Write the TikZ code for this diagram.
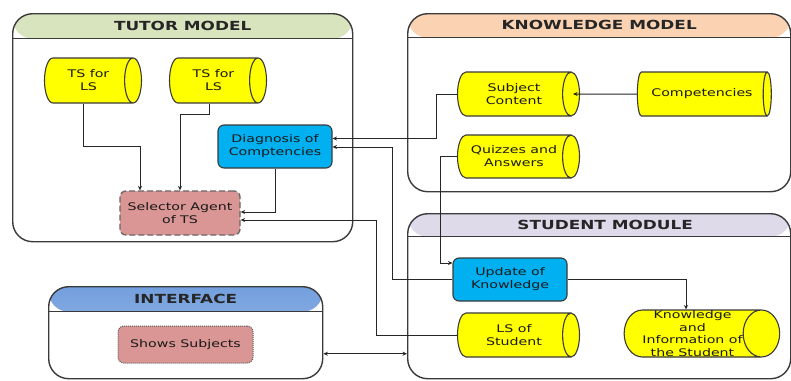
\documentclass[tikz,border=0pt]{standalone}
\usepackage{fontspec}
\setmainfont{DejaVu Sans}[FakeStretch=1.35]
\usetikzlibrary{shapes.geometric,arrows.meta}
\definecolor{tgreen}{HTML}{D7E4BD}
\definecolor{kpeach}{HTML}{FBD3B3}
\definecolor{slav}{HTML}{DEDAEA}
\definecolor{iblueA}{HTML}{739FDD}
\definecolor{iblueB}{HTML}{A3C2EC}
\definecolor{cyel}{HTML}{FFFF00}
\definecolor{pcyan}{HTML}{00B0F0}
\definecolor{prose}{HTML}{D99694}
\definecolor{edge}{HTML}{3A3A3A}
\begin{document}
\begin{tikzpicture}[x=1pt,y=-1pt,
  container/.style={draw=edge, line width=1.4pt, fill=white, rounded corners=20pt, anchor=north west, inner sep=0pt},
  header/.style 2 args={path picture={
      \path[#1] (path picture bounding box.north west) rectangle ([yshift=-#2]path picture bounding box.north east);
      \draw[edge, line width=1.4pt] ([yshift=-#2]path picture bounding box.north west) -- ([yshift=-#2]path picture bounding box.north east);}},
  title/.style={font=\bfseries\fontsize{12.5}{14}\selectfont, text=black!85, inner sep=0pt},
  txt/.style={font=\fontsize{10.5}{13}\selectfont, align=center, text=black!90, inner sep=0pt},
  cyl/.style={txt, cylinder, aspect=0.8, draw=edge, line width=1.1pt, fill=cyel},
  proc/.style={txt, rectangle, rounded corners=6pt, draw=edge, line width=1.1pt, fill=pcyan},
  selbox/.style={txt, rectangle, rounded corners=6pt, draw=black!60, line width=1.3pt, dash pattern=on 6pt off 3pt, fill=prose},
  showbox/.style={txt, rectangle, rounded corners=6pt, draw=black!65, line width=1pt, densely dotted, fill=prose},
  conn/.style={draw=black!85, line width=1pt, -{Stealth[length=4.5pt,width=4pt]}},
]
\useasboundingbox (0,0) rectangle (791,380);

% containers
\node[container, minimum width=340pt, minimum height=228pt, header={fill=tgreen}{25pt}] (tutor) at (12,13) {};
\node[container, minimum width=383pt, minimum height=178pt, header={fill=kpeach}{24pt}] (know) at (407,13) {};
\node[container, minimum width=383pt, minimum height=165pt, header={fill=slav}{23pt}] (stud) at (407,213) {};
\node[container, minimum width=274pt, minimum height=92pt, header={top color=iblueA,bottom color=iblueB}{25pt}] (iface) at (48,286) {};

\node[title] (tutort) at ([yshift=-12.5pt]tutor.north) {TUTOR MODEL};
\node[title] (knowt) at ([yshift=-12pt]know.north) {KNOWLEDGE MODEL};
\node[title] (studt) at ([xshift=6pt,yshift=-11.5pt]stud.north) {STUDENT MODULE};
\node[title] (ifacet) at ([yshift=-12.5pt]iface.north) {INTERFACE};

% nodes (cylinder: minimum height = length along axis, minimum width = diameter)
\node[cyl, minimum height=97pt, minimum width=45pt] (ts1) at (88.5,80.5) {TS for\\LS};
\node[cyl, minimum height=97pt, minimum width=45pt] (ts2) at (213.5,80.5) {TS for\\LS};
\node[proc, minimum width=114pt, minimum height=43pt] (diag) at (275,146.5) {Diagnosis of\\Comptencies};
\node[selbox, minimum width=120pt, minimum height=44pt] (sel) at (180,213) {Selector Agent\\of TS};
\node[cyl, minimum height=122pt, minimum width=44pt] (subj) at (514,94) {Subject\\Content};
\node[cyl, minimum height=134pt, minimum width=44pt] (comp) at (702,94) {Competencies};
\node[cyl, minimum height=122pt, minimum width=43pt] (quiz) at (514,156.5) {Quizzes and\\Answers};
\node[proc, minimum width=114pt, minimum height=43pt] (upd) at (510,279.5) {Update of\\Knowledge};
\node[cyl, minimum height=122pt, minimum width=44pt] (ls) at (514,335) {LS of\\Student};
\node[cyl, minimum height=135pt, minimum width=47pt, font=\fontsize{10.5}{12.5}\selectfont] (ki) at (692.5,333.5) {Knowledge\\and\\Information of\\the Student};
\node[showbox, minimum width=135pt, minimum height=37pt] (shows) at (185.5,344.5) {Shows Subjects};

% connectors
\draw[conn] (subj.west) -- ++(-20,0) |- ([yshift=8pt]diag.east);
\draw[conn] (upd.west) -- ++(-60,0) |- ([yshift=-0.5pt]diag.east);
\draw[conn] (quiz.west) -- ++(-16,0) |- ([yshift=16.5pt]upd.west);
\draw[conn] (ls.west) -- ++(-80,0) |- ([yshift=-7pt]sel.east);
\draw[conn] (diag.south) |- ([yshift=1pt]sel.east);
\draw[conn] ([xshift=-5.5pt]ts1.south) -- ++(0,43) -| ([xshift=-40pt]sel.north);
\draw[conn] ([xshift=-4.5pt]ts2.south) -- ++(0,11) -| (sel.north);
\draw[conn] (comp.west) -- ([xshift=-7pt]subj.east);
\draw[conn] (upd.east) -| ([xshift=-6.5pt]ki.north);
\draw[conn, {Stealth[length=4.5pt,width=4pt]}-{Stealth[length=4.5pt,width=4pt]}] ([yshift=-21pt]iface.east) -- ([yshift=-21pt]iface.east -| stud.west);
\end{tikzpicture}
\end{document}
